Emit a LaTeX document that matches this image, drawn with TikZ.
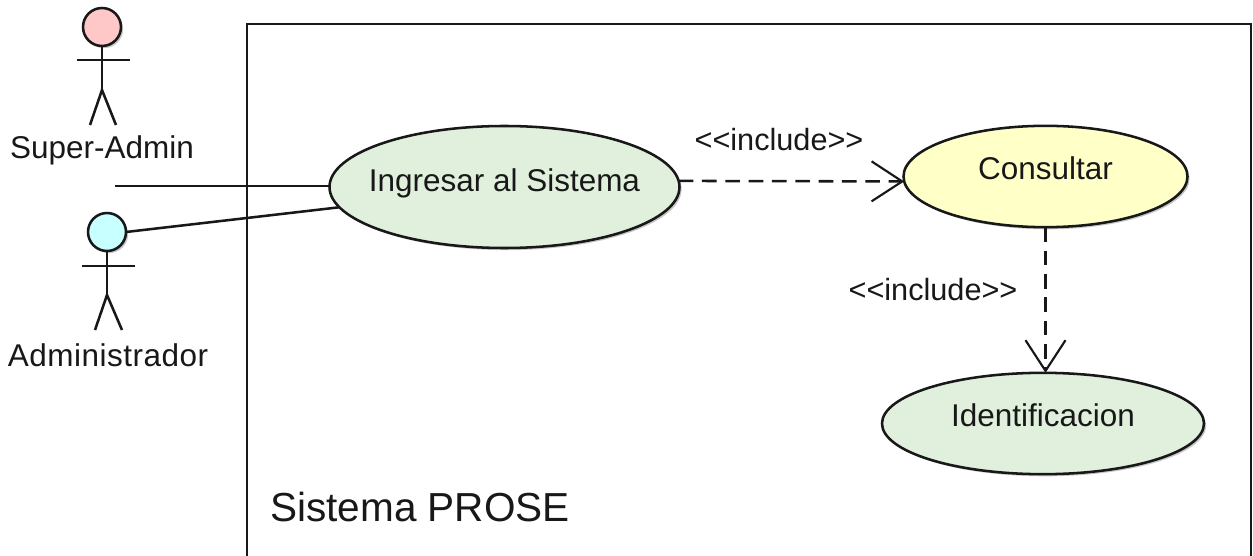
\documentclass[tikz,border=0pt]{standalone}
\usepackage{fontspec}
\setmainfont{Liberation Sans}
\usetikzlibrary{arrows.meta,shapes.geometric,shadows}
\definecolor{usegreen}{HTML}{E0F0DC}
\definecolor{useyellow}{HTML}{FFFFC8}
\definecolor{headpink}{HTML}{FFC8C8}
\definecolor{headcyan}{HTML}{C8FFFF}
\definecolor{linecol}{HTML}{181818}
\newcommand{\fsize}[1]{\fontsize{#1}{#1}\selectfont}
\newcommand{\casetext}[2]{\raisebox{#1}[0pt][0pt]{\makebox[0pt]{#2}}}
\tikzset{
  ln/.style={draw=linecol,line width=1.9pt},
  softshadow/.style={drop shadow={shadow xshift=1.6pt,shadow yshift=-1.6pt,fill=black,opacity=0.22}},
  usecase/.style={shape=ellipse,ln,inner sep=0pt,outer sep=0pt,softshadow,font=\fsize{23.6pt},text=linecol},
  head/.style={shape=circle,ln,inner sep=0pt,outer sep=0pt,minimum size=28.5pt,softshadow},
  actorlabel/.style={font=\fsize{23.6pt},text=linecol,inner sep=0pt},
  stereo/.style={font=\fsize{23pt},text=linecol,inner sep=0pt},
  dep/.style={ln,dash pattern=on 11pt off 6.5pt,-{Straight Barb[length=23pt,width=30pt,line width=1.6pt]}},
  assoc/.style={ln},
}
\begin{document}
\begin{tikzpicture}[x=0.75pt,y=-0.75pt]
\useasboundingbox (0,0) rectangle (1253,556);
\path[fill=white] (0,0) rectangle (1253,556);
\begin{scope}
\clip (0,0) rectangle (1253,556);
\draw[ln] (247,570) -- (247,24) -- (1251,24) -- (1251,570);
\end{scope}
\node[font=\fsize{30.4pt},text=linecol,anchor=base west,inner sep=0pt] (sys) at (270,521) {Sistema PROSE};
% use cases
\node[usecase,fill=usegreen,minimum width=262.5pt,minimum height=91.5pt] (ing) at (504.5,187) {\casetext{-3pt}{Ingresar al Sistema}};
\node[usecase,fill=useyellow,minimum width=213pt,minimum height=76pt] (con) at (1045.5,176.5) {\casetext{-2.6pt}{Consultar}};
\node[usecase,fill=usegreen,minimum width=241.5pt,minimum height=76pt] (ide) at (1043,423.5) {\casetext{-2pt}{Identificacion}};
% actor 1
\node[head,fill=headpink] (h1) at (102,27) {};
\coordinate (n1) at (102,90);
\coordinate (al1) at (77,60);
\coordinate (ar1) at (130,60);
\coordinate (ll1) at (90,125);
\coordinate (lr1) at (116,125);
\draw[ln] (h1.south) -- (n1);
\draw[ln] (al1) -- (ar1);
\draw[ln] (ll1) -- (n1) -- (lr1);
\node[actorlabel] (t1) at (102,150) {Super-Admin};
% actor 2
\node[head,fill=headcyan] (h2) at (107,232) {};
\coordinate (n2) at (107,295);
\coordinate (al2) at (82,266);
\coordinate (ar2) at (135,266);
\coordinate (ll2) at (95,330);
\coordinate (lr2) at (122,330);
\draw[ln] (h2.south) -- (n2);
\draw[ln] (al2) -- (ar2);
\draw[ln] (ll2) -- (n2) -- (lr2);
\node[actorlabel] (t2) at (108,355) {\addfontfeatures{LetterSpace=1.6}Administrador};
% connectors
\coordinate (free) at (115,186);
\draw[assoc] (free) -- (free -| ing.west);
\draw[assoc] (h2.east) -- (ing.187);
\draw[dep] (ing.2) -- (con.182);
\draw[dep] (con.south) -- (con.south |- ide.north);
\node[stereo] (s1) at (779,140) {<{}<include>{}>};
\node[stereo] (s2) at (933,290) {<{}<include>{}>};
\end{tikzpicture}
\end{document}
